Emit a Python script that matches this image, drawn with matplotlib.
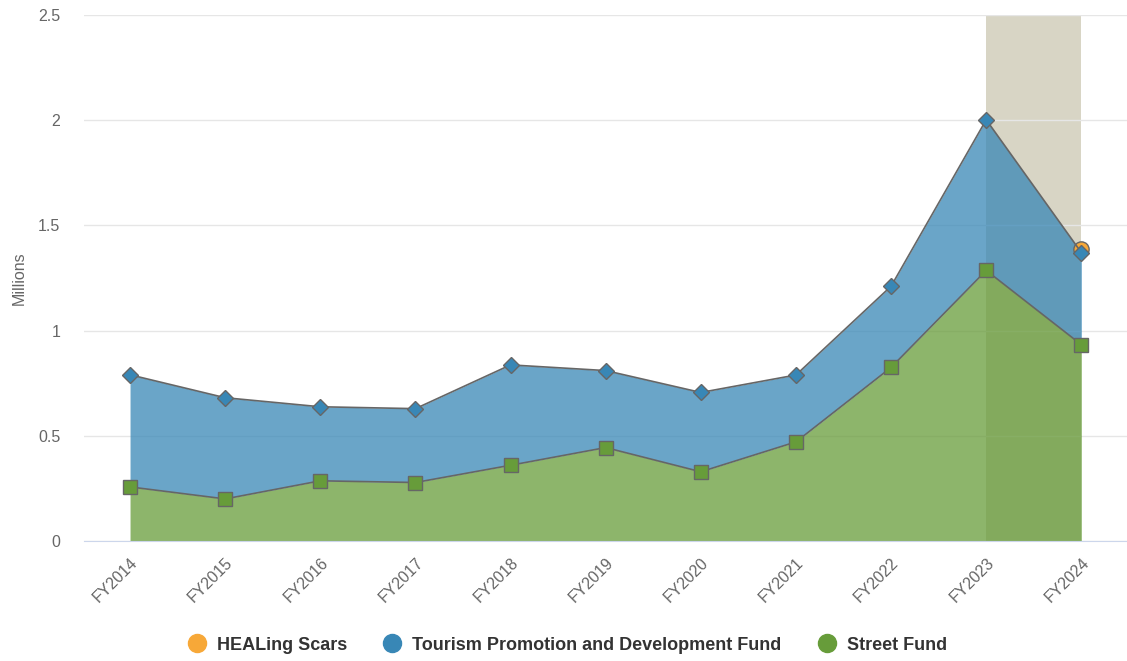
#!/usr/bin/env python3
# Stacked fund balances by fiscal year

import numpy as np
import matplotlib.pyplot as plt
from matplotlib.lines import Line2D

# Data (millions)
years = ["FY2014", "FY2015", "FY2016", "FY2017", "FY2018", "FY2019",
         "FY2020", "FY2021", "FY2022", "FY2023", "FY2024"]
street_fund = [0.257, 0.200, 0.286, 0.278, 0.360, 0.444,
               0.329, 0.471, 0.825, 1.286, 0.933]
tourism_fund = [0.533, 0.481, 0.352, 0.351, 0.477, 0.366,
                0.377, 0.318, 0.386, 0.716, 0.438]
healing_scars = [np.nan, np.nan, np.nan, np.nan, np.nan, np.nan,
                 np.nan, np.nan, np.nan, np.nan, 0.015]
band_years = ["FY2023", "FY2024"]

# Colours
c_street = "#679c3a"
c_tourism = "#3887b6"
c_healing = "#f7a838"
c_band = "#d8d5c5"
c_text = "#666666"
c_outline = "#666666"

plt.rcParams["font.family"] = ["Liberation Sans", "DejaVu Sans"]

fig = plt.figure(figsize=(11.27, 6.61), dpi=100)
ax = fig.add_axes([84 / 1127, 120 / 661, 1 - 84 / 1127, 526 / 661])

x = np.arange(len(years))
street = np.array(street_fund)
tourism_top = street + np.array(tourism_fund)
healing_top = tourism_top + np.nan_to_num(np.array(healing_scars))

# Highlighted span
b0, b1 = years.index(band_years[0]), years.index(band_years[1])
ax.axvspan(b0, b1, color=c_band, zorder=0.3, lw=0)

# Stacked areas
ax.fill_between(x, 0, street, color=c_street, alpha=0.75, lw=0, zorder=2)
ax.fill_between(x, street, tourism_top, color=c_tourism, alpha=0.75, lw=0, zorder=2)

# Series outlines and markers, top series first so lower ones sit above
hs = np.array(healing_scars)
ax.plot(x, np.where(np.isnan(hs), np.nan, healing_top), color=c_outline, lw=1,
        marker="o", ms=11, mfc=c_healing, mec=c_outline, mew=1, zorder=3)
ax.plot(x, tourism_top, color=c_outline, lw=1.2,
        marker="D", ms=8.5, mfc=c_tourism, mec=c_outline, mew=1, zorder=4)
ax.plot(x, street, color=c_outline, lw=1.2,
        marker="s", ms=10, mfc=c_street, mec=c_outline, mew=1, zorder=5)

# Axes formatting
ax.set_xlim(-0.484, 10.48)
ax.set_ylim(0, 2.5)
ax.set_yticks([0, 0.5, 1, 1.5, 2, 2.5])
ax.set_yticklabels(["0", "0.5", "1", "1.5", "2", "2.5"])
ax.set_xticks(x)
ax.set_xticklabels(years, rotation=45, ha="right", rotation_mode="anchor")
ax.tick_params(axis="both", length=0, colors=c_text, labelsize=11.5)
ax.tick_params(axis="y", pad=17)
ax.tick_params(axis="x", pad=10)
ax.grid(axis="y", color="#e6e6e6", lw=1)
ax.set_axisbelow(True)
for side in ["top", "right", "left"]:
    ax.spines[side].set_visible(False)
ax.spines["bottom"].set_color("#ccd6eb")
ax.spines["bottom"].set_zorder(6)
ax.set_ylabel("Millions", color=c_text, fontsize=11.5, labelpad=8)
ax.patch.set_alpha(0)

# Legend
handles = [Line2D([], [], ls="", marker="o", ms=13, mfc=c, mec=c)
           for c in [c_healing, c_tourism, c_street]]
labels = ["HEALing Scars", "Tourism Promotion and Development Fund", "Street Fund"]
leg = fig.legend(handles, labels, loc="center", bbox_to_anchor=(0.4995, 16 / 661),
                 ncol=3, frameon=False, handletextpad=0.1, columnspacing=1.52,
                 prop={"weight": "bold", "size": 13})
for t in leg.get_texts():
    t.set_color("#333333")

fig.savefig("out.png", dpi=100)
